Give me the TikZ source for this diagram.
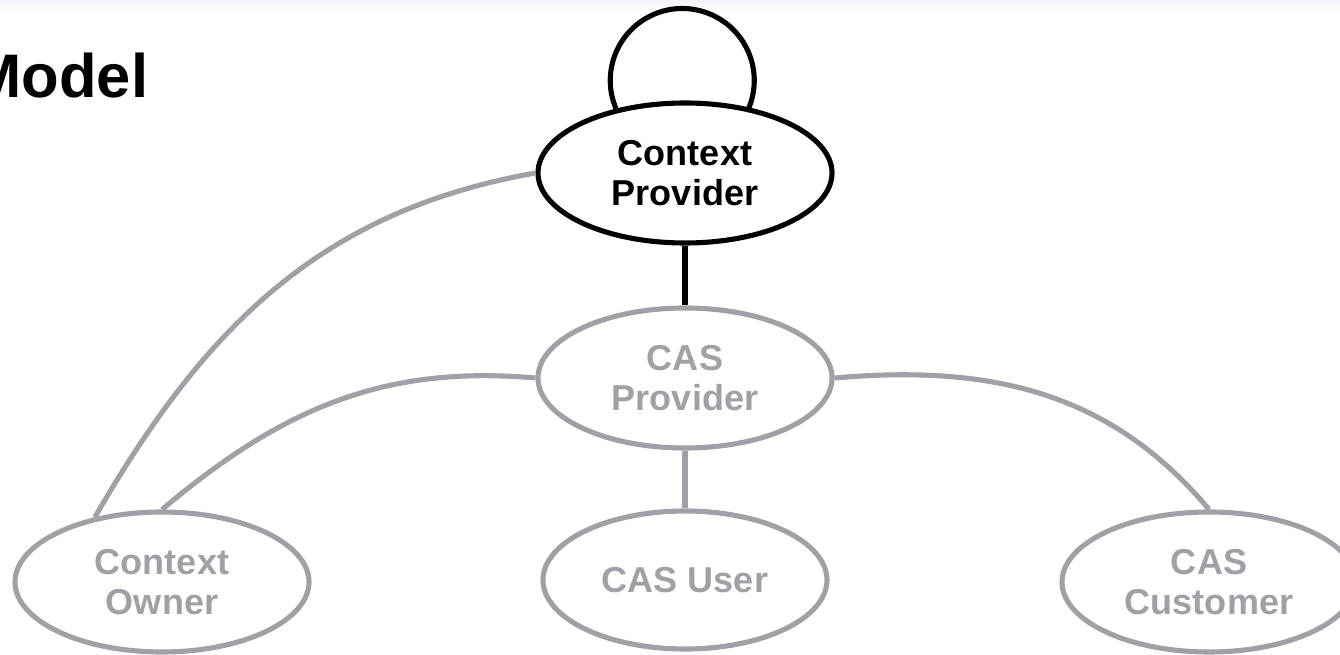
\documentclass[tikz,border=0pt]{standalone}
\usepackage{fontspec}
\setmainfont{Liberation Sans}
\usepackage{xcolor}
\usepackage{tikz}
\usetikzlibrary{shapes}
\definecolor{lgray}{RGB}{160,160,166}
\definecolor{haze}{RGB}{244,244,252}
\tikzset{oval/.style={ellipse,draw,line width=2.9pt,minimum width=5.88cm,minimum height=2.8cm,inner sep=0pt,align=center,font=\fontsize{20.5}{23}\selectfont\bfseries}}
\tikzset{dim/.style={lgray,text=lgray}}

\begin{document}
\begin{tikzpicture}[line width=2.9pt]
        \clip (0,0) rectangle (26.8,13.08);
        \shade[top color=haze,bottom color=white,draw=none] (0,12.86) rectangle (26.8,13.08);

        \node[anchor=base west,inner sep=0pt,font=\fontsize{35}{40}\selectfont\bfseries] (m) at (-0.64,11.12) {Model};

        \node[oval] (a) at (13.7,9.62) {Context\\Provider};
        \node[oval,dim] (b) at (13.7,5.52) {CAS\\Provider};
        \node[oval,dim] (c) at (3.24,1.44) {Context\\Owner};
        \node[oval,dim,minimum width=5.68cm,minimum height=2.76cm] (d) at (13.7,1.48) {CAS User};
        \node[oval,dim] (e) at (24.18,1.44) {CAS\\Customer};

        \draw [] (a.137) arc [start angle=203,end angle=-23,radius=1.44cm];
        \draw [] (a) to [] (b);
        \draw [lgray] (b) to [] (d);
        \draw [lgray] (a.west) to [out=190,in=60] (c.136);
        \draw [lgray] (b.west) to [out=175,in=40] (c.north);
        \draw [lgray] (b.east) to [out=5,in=130] (e.north);
    \end{tikzpicture}
\end{document}
